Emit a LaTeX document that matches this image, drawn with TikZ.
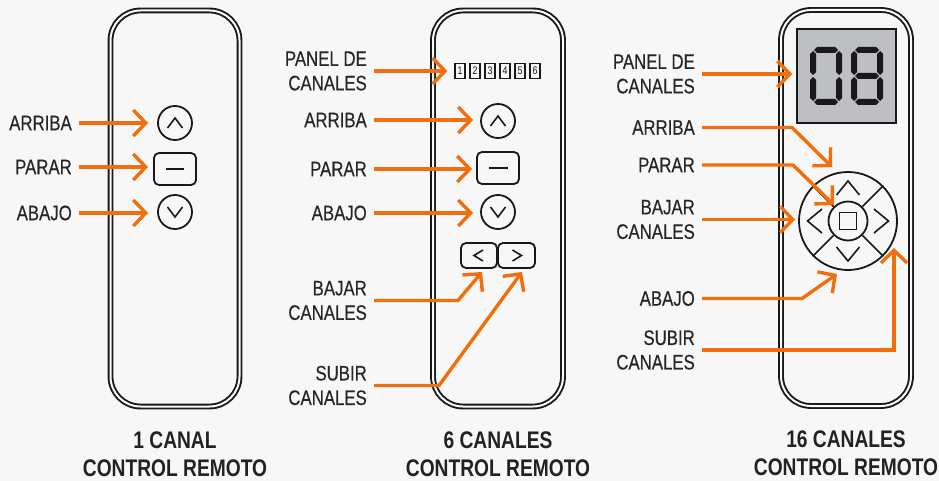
\documentclass[tikz,border=0pt]{standalone}
\usepackage{fontspec}
\setmainfont{Liberation Sans}[FakeStretch=0.8]
\newfontfamily\labfont{Liberation Sans}[FakeStretch=0.8, FakeBold=0.4]
\usetikzlibrary{arrows.meta}
\definecolor{bgc}{RGB}{247,247,247}
\definecolor{shellc}{RGB}{250,250,250}
\definecolor{org}{RGB}{242,110,12}
\definecolor{txt}{RGB}{38,38,38}
\definecolor{ttxt}{RGB}{34,34,34}
\definecolor{lcd}{RGB}{190,191,194}
\definecolor{ink}{RGB}{25,25,25}
\tikzset{
  lab/.style={anchor=east, inner sep=0pt, align=right, text=txt, font=\labfont\fontsize{21}{24.5}\selectfont},
  ttl/.style={inner sep=0pt, align=center, text=ttxt, font=\fontsize{24}{28}\selectfont\bfseries},
  arr/.style={draw=org, line width=3.4pt, -{Straight Barb[length=12.5pt,width=26pt]}, shorten <=7pt},
  shell/.style={draw=ink, line width=1.9pt, double=shellc, double distance=2pt, rounded corners=30pt, minimum width=130pt, minimum height=396pt, inner sep=0pt},
  cbtn/.style={circle, draw=ink, line width=1.8pt, minimum size=34pt, inner sep=0pt},
  rbtn/.style={rectangle, draw=ink, line width=1.8pt, rounded corners=5pt, inner sep=0pt},
  glyph/.style={draw=ink, line width=1.6pt},
  chbox/.style={rectangle, draw=ink, line width=1.2pt, minimum width=10pt, minimum height=15pt, inner sep=0pt, text=ink, font=\fontsize{11}{11}\selectfont},
  segc/.style={fill=ink},
}
\newcommand\segH[3]{\fill[segc] ({#1},{#3}) -- ({#1+3},{#3-3}) -- ({#2-3},{#3-3}) -- ({#2},{#3}) -- ({#2-3},{#3+3}) -- ({#1+3},{#3+3}) -- cycle;}
\newcommand\segV[3]{\fill[segc] ({#1},{#2}) -- ({#1+3},{#2+3}) -- ({#1+3},{#3-3}) -- ({#1},{#3}) -- ({#1-3},{#3-3}) -- ({#1-3},{#2+3}) -- cycle;}
\newcommand\digzero[2]{%
  \segH{#1+4}{#1+28}{#2+3}\segH{#1+4}{#1+28}{#2+55}%
  \segV{#1+3}{#2+4}{#2+28}\segV{#1+3}{#2+30}{#2+54}%
  \segV{#1+29}{#2+4}{#2+28}\segV{#1+29}{#2+30}{#2+54}}
\newcommand\digeight[2]{\digzero{#1}{#2}\segH{#1+4}{#1+28}{#2+29}}
\begin{document}
\begin{tikzpicture}[x=1pt,y=-1pt]
\fill[bgc] (0,0) rectangle (939,481);
\useasboundingbox (0,0) rectangle (939,481);

% ---------- shells
\node[shell, minimum width=129pt] (shL) at (175,208.5) {};
\node[shell] (shM) at (498,208.5) {};
\node[shell] (shR) at (846,208) {};

% ---------- left remote
\node[cbtn] (lUp) at (175,123) {};
\draw[glyph] ([shift={(-7.5,5)}]lUp.center) -- ++(7.5,-10) -- ++(7.5,10);
\node[rbtn, minimum width=42pt, minimum height=32pt] (lSt) at (175,169) {};
\draw[glyph] ([xshift=-9pt]lSt.center) -- ([xshift=9pt]lSt.center);
\node[cbtn] (lDn) at (175,212) {};
\draw[glyph] ([shift={(-7.5,-5)}]lDn.center) -- ++(7.5,10) -- ++(7.5,-10);

\node[lab] (lA) at (72,123) {ARRIBA};
\node[lab] (lP) at (72,167) {PARAR};
\node[lab] (lB) at (72,213) {ABAJO};
\draw[arr, shorten >=9pt] (lA.east) -- (lA.east -| lUp.west);
\draw[arr, shorten >=5pt] (lP.east) -- (lP.east -| lSt.west);
\draw[arr, shorten >=9pt] (lB.east) -- (lB.east -| lDn.west);
\node[ttl] (tL) at (175,454) {1 CANAL\\CONTROL REMOTO};

% ---------- middle remote
\foreach \i/\x in {1/460,2/475,3/490,4/505,5/520,6/535}
  \node[chbox] (ch\i) at (\x,71) {\i};
\node[cbtn] (mUp) at (498,121) {};
\draw[glyph] ([shift={(-7.5,5)}]mUp.center) -- ++(7.5,-10) -- ++(7.5,10);
\node[rbtn, minimum width=42pt, minimum height=32pt] (mSt) at (498,168) {};
\draw[glyph] ([xshift=-9.5pt]mSt.center) -- ([xshift=9.5pt]mSt.center);
\node[cbtn] (mDn) at (498,212) {};
\draw[glyph] ([shift={(-7.5,-5)}]mDn.center) -- ++(7.5,10) -- ++(7.5,-10);
\node[rbtn, minimum width=36pt, minimum height=25pt] (mLt) at (479,255.5) {};
\draw[glyph] ([shift={(4,-5.5)}]mLt.center) -- ++(-9,5.5) -- ++(9,5.5);
\node[rbtn, minimum width=37pt, minimum height=25pt] (mRt) at (516.5,255.5) {};
\draw[glyph] ([shift={(-4,-5.5)}]mRt.center) -- ++(9,5.5) -- ++(-9,5.5);

\node[lab] (mPn) at (367,71) {PANEL DE\\CANALES};
\node[lab] (mA) at (367,120) {ARRIBA};
\node[lab] (mP) at (367,169) {PARAR};
\node[lab] (mB) at (367,213) {ABAJO};
\node[lab] (mBj) at (367,300.5) {BAJAR\\CANALES};
\node[lab] (mSb) at (367,385.5) {SUBIR\\CANALES};
\coordinate (mBjK) at (458,300.5);
\coordinate (mBjT) at (482,272);
\coordinate (mSbK) at (439,385.5);
\coordinate (mSbT) at (522,272);
\draw[arr, shorten >=7pt] (mPn.east) -- (mPn.east -| ch1.west);
\draw[arr, shorten >=7pt] (mA.east) -- (mA.east -| mUp.west);
\draw[arr, shorten >=4pt] (mP.east) -- (mP.east -| mSt.west);
\draw[arr, shorten >=7pt] (mB.east) -- (mB.east -| mDn.west);
\draw[arr] (mBj.east) -- (mBjK) -- (mBjT);
\draw[arr] (mSb.east) -- (mSbK) -- (mSbT);
\node[ttl] (tM) at (498,454) {6 CANALES\\CONTROL REMOTO};

% ---------- right remote
\node[rectangle, draw=ink, line width=1.5pt, fill=lcd, minimum width=99pt, minimum height=94pt, inner sep=0pt] (disp) at (846.5,76) {};
\digzero{810}{47}
\digeight{851}{47}
\node[circle, draw=ink, line width=1.8pt, minimum size=98pt, inner sep=0pt] (dOut) at (848,221) {};
\node[circle, draw=ink, line width=1.8pt, minimum size=39pt, inner sep=0pt] (dIn) at (848,221) {};
\foreach \a in {45,135,225,315} \draw[glyph] (dIn.\a) -- (dOut.\a);
\node[rectangle, draw=ink, line width=1.8pt, minimum size=17pt, inner sep=0pt] (dSq) at (848,221) {};
\draw[glyph] ([shift={(-11.5,-26)}]dOut.center) -- ++(11.5,-14) -- ++(11.5,14);
\draw[glyph] ([shift={(-11.5,26)}]dOut.center) -- ++(11.5,14) -- ++(11.5,-14);
\draw[glyph] ([shift={(-26,-12)}]dOut.center) -- ++(-14.5,12) -- ++(14.5,12);
\draw[glyph] ([shift={(26,-12)}]dOut.center) -- ++(14.5,12) -- ++(-14.5,12);

\node[lab] (rPn) at (695,74) {PANEL DE\\CANALES};
\node[lab] (rA) at (695,127.5) {ARRIBA};
\node[lab] (rP) at (695,165) {PARAR};
\node[lab] (rBj) at (695,219.5) {BAJAR\\CANALES};
\node[lab] (rB) at (695,298.5) {ABAJO};
\node[lab] (rSb) at (695,350) {SUBIR\\CANALES};
\coordinate (rAK) at (792,127.5);
\coordinate (rAT) at (832,167);
\coordinate (rPK) at (793,165);
\coordinate (rPT) at (834,205);
\coordinate (rBK) at (802,298.5);
\coordinate (rBT) at (837,274);
\coordinate (rSK) at (894,350);
\coordinate (rST) at (894,248);
\draw[arr, shorten >=4pt] (rPn.east) -- (rPn.east -| disp.west);
\draw[arr] (rA.east) -- (rAK) -- (rAT);
\draw[arr] (rP.east) -- (rPK) -- (rPT);
\draw[arr, shorten >=3pt] (rBj.east) -- (rBj.east -| dOut.west);
\draw[arr] (rB.east) -- (rBK) -- (rBT);
\draw[arr] (rSb.east) -- (rSK) -- (rST);
\node[ttl] (tR) at (846,453) {16 CANALES\\CONTROL REMOTO};
\end{tikzpicture}
\end{document}
